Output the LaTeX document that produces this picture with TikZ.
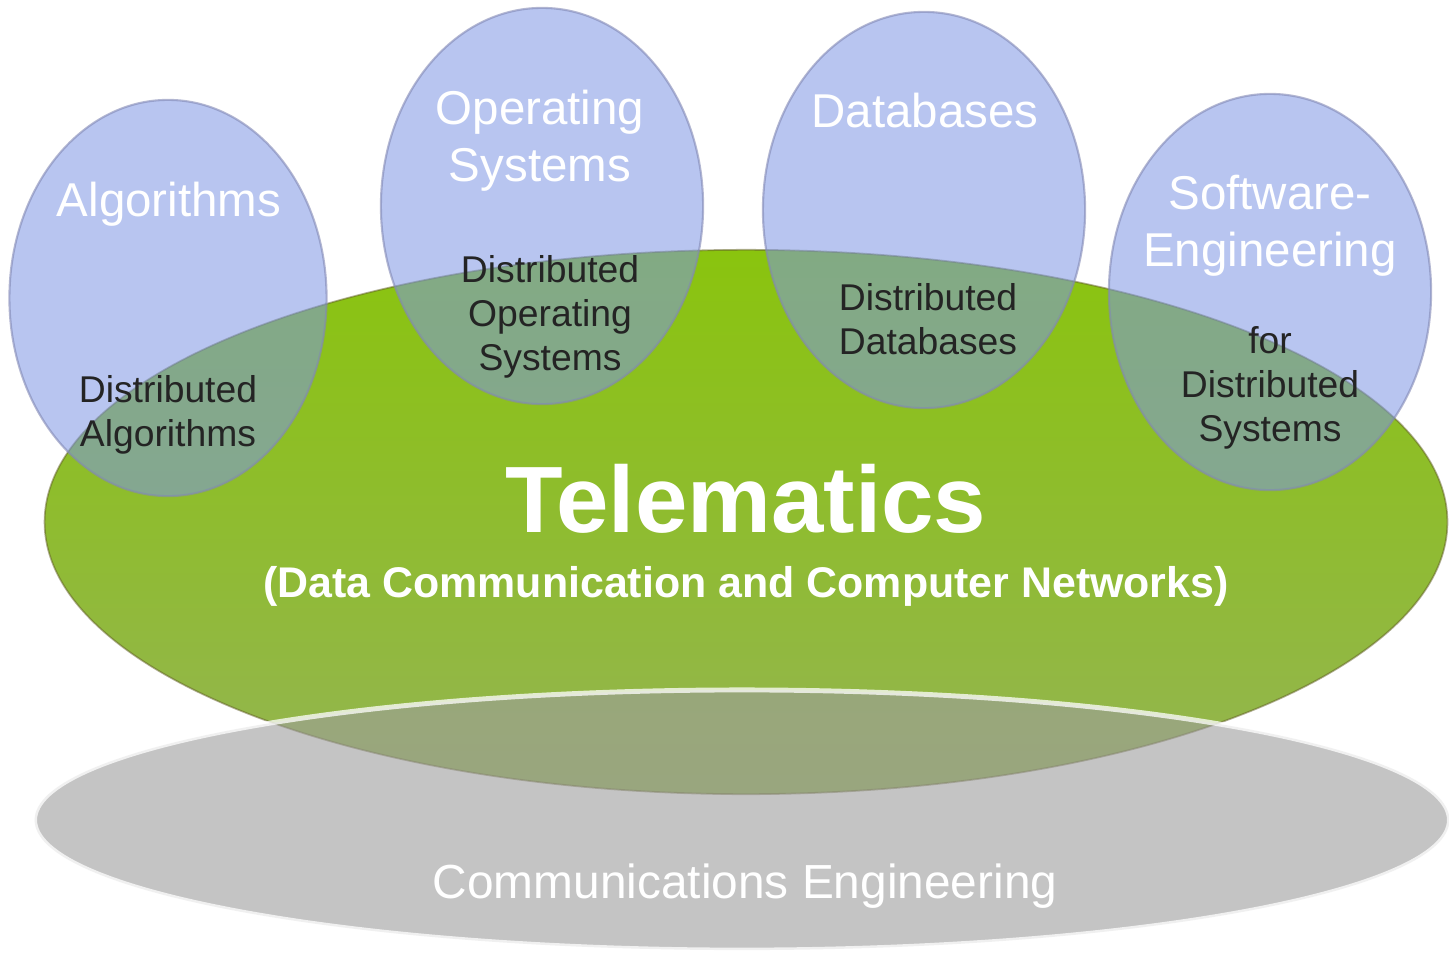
\documentclass[tikz,border=0pt]{standalone}
\usepackage{fontspec}
\setmainfont{Liberation Sans}
\usepackage{xcolor}
\definecolor{bubblefill}{RGB}{125,150,228}
\definecolor{bubbleline}{RGB}{130,136,180}
\definecolor{leafgreen}{RGB}{138,196,14}
\definecolor{mossgreen}{RGB}{148,180,82}
\definecolor{groundgray}{RGB}{157,157,157}
\definecolor{labeldark}{RGB}{36,36,36}
\usetikzlibrary{shapes.geometric}

\begin{document}
\begin{tikzpicture}[
  x=0.01cm, y=-0.01cm,
  bubble/.style={
    ellipse, inner sep=0pt, outer sep=0pt,
    minimum width=3.22cm, minimum height=3.96cm,
    fill=bubblefill, fill opacity=0.55,
    draw=bubbleline, draw opacity=0.6, line width=0.6pt
  },
  title/.style={
    anchor=base, inner sep=0pt, align=center, text=white,
    font=\fontsize{13.5}{16.2}\selectfont
  },
  inner/.style={
    anchor=base, inner sep=0pt, align=center, text=labeldark,
    font=\fontsize{10.6}{12.5}\selectfont
  }
]
\useasboundingbox (0,0) rectangle (1449,954);

% the two layers below the topics
\node[ellipse, inner sep=0pt, minimum width=14.02cm, minimum height=5.44cm,
  top color=leafgreen, middle color=leafgreen!80!mossgreen, bottom color=mossgreen,
  draw=olive!60!black, draw opacity=0.5, line width=0.5pt] (tele) at (746,522) {};
\node[ellipse, inner sep=0pt, minimum width=14.14cm, minimum height=2.60cm,
  fill=groundgray, fill opacity=0.6,
  draw=white, draw opacity=0.75, line width=1.4pt] (comm) at (742,820) {};

% topics sitting on the telematics layer
\node[bubble, minimum width=3.17cm] (algo) at (168,298) {};
\node[bubble] (opsys) at (542,206) {};
\node[bubble] (dbase) at (924,210) {};
\node[bubble] (softeng) at (1270,292) {};

% base anchor = baseline of the last line
\node[title] (algoT) at (169,216) {Algorithms};
\node[title] (opsysT) at (540,181) {Operating\\Systems};
\node[title] (dbaseT) at (925,127) {Databases};
\node[title] (softengT) at (1270,266) {Software-\\Engineering};

\node[inner] (algoD) at (168,446) {Distributed\\Algorithms};
\node[inner] (opsysD) at (550,370) {Distributed\\Operating\\Systems};
\node[inner] (dbaseD) at (928,354) {Distributed\\Databases};
\node[inner] (softengD) at (1270,441) {for\\Distributed\\Systems};

\node[anchor=base, inner sep=0pt, text=white, font=\fontsize{26.8}{30}\selectfont\bfseries]
  (teleT) at (746,532) {Telematics};
\node[anchor=base, inner sep=0pt, text=white, font=\fontsize{12.2}{14}\selectfont\bfseries]
  (teleS) at (746,597) {(Data Communication and Computer Networks)};
\node[anchor=base, inner sep=0pt, text=white, font=\fontsize{13.6}{16}\selectfont]
  (commT) at (745,898) {Communications Engineering};
\end{tikzpicture}
\end{document}
